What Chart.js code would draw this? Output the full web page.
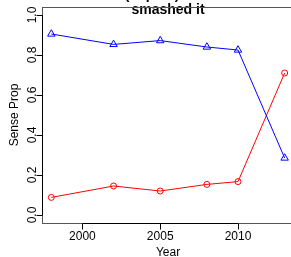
<!DOCTYPE html>
<html>
<head>
<meta charset="utf-8">
<script src="https://cdn.jsdelivr.net/npm/chart.js@4"></script>
<style>
  html, body { margin: 0; padding: 0; background: #fff; overflow: hidden; }
  canvas { display: block; }
</style>
</head>
<body>
<canvas id="senseChart" width="300" height="257"></canvas>
<script>
// values
const years = [1998, 2002, 2005, 2008, 2010, 2013];
const blueProp = [0.905, 0.853, 0.872, 0.84, 0.825, 0.285];
const redProp = [0.088, 0.145, 0.12, 0.153, 0.167, 0.71];

const xTicks = [2000, 2005, 2010];
const yTicks = [0, 0.2, 0.4, 0.6, 0.8, 1.0];
const yTickLabels = ['0.0', '0.2', '0.4', '0.6', '0.8', '1.0'];

const FONT = '"Liberation Sans", Arial, Helvetica, sans-serif';

// R style axes, box and titles drawn through the chart scales
const rAxes = {
    id: 'rAxes',
    beforeDatasetsDraw(chart) {
        const ctx = chart.ctx;
        const a = chart.chartArea;
        const xs = chart.scales.x, ys = chart.scales.y;
        ctx.save();
        // box
        ctx.strokeStyle = '#555';
        ctx.lineWidth = 1;
        ctx.strokeRect(Math.round(a.left) + 0.5, Math.round(a.top) + 0.5,
                       Math.round(a.right - a.left), Math.round(a.bottom - a.top));

        ctx.strokeStyle = '#000';
        ctx.fillStyle = '#000';
        ctx.font = '12px ' + FONT;

        // x axis
        const yb = Math.round(a.bottom) + 0.5;
        const x0 = xs.getPixelForValue(xTicks[0]);
        const x1 = xs.getPixelForValue(xTicks[xTicks.length - 1]);
        ctx.beginPath();
        ctx.moveTo(x0, yb); ctx.lineTo(x1, yb);
        xTicks.forEach(t => {
            const px = Math.round(xs.getPixelForValue(t)) + 0.5;
            ctx.moveTo(px, yb); ctx.lineTo(px, yb + 6);
        });
        ctx.stroke();
        ctx.textAlign = 'center';
        ctx.textBaseline = 'alphabetic';
        xTicks.forEach(t => ctx.fillText(String(t), xs.getPixelForValue(t), 240));
        ctx.fillText('Year', (a.left + a.right) / 2, 256);

        // y axis
        const xl = Math.round(a.left) + 0.5;
        ctx.beginPath();
        ctx.moveTo(xl, ys.getPixelForValue(yTicks[0]));
        ctx.lineTo(xl, ys.getPixelForValue(yTicks[yTicks.length - 1]));
        yTicks.forEach(t => {
            const py = Math.round(ys.getPixelForValue(t)) + 0.5;
            ctx.moveTo(xl, py); ctx.lineTo(xl - 6, py);
        });
        ctx.stroke();
        yTicks.forEach((t, i) => {
            ctx.save();
            ctx.translate(36, ys.getPixelForValue(t));
            ctx.rotate(-Math.PI / 2);
            ctx.fillText(yTickLabels[i], 0, 0);
            ctx.restore();
        });
        ctx.save();
        ctx.translate(18, (a.top + a.bottom) / 2);
        ctx.rotate(-Math.PI / 2);
        ctx.fillText('Sense Prop', 0, 0);
        ctx.restore();
        ctx.restore();
    },
    afterDraw(chart) {
        const ctx = chart.ctx;
        const a = chart.chartArea;
        const cx = (a.left + a.right) / 2;
        ctx.save();
        ctx.fillStyle = '#000';
        ctx.font = 'bold 14px ' + FONT;
        ctx.textAlign = 'center';
        ctx.textBaseline = 'alphabetic';
        // first title line sits above the window, only descenders show
        ctx.fillText('(', 127, -1);
        ctx.fillText('p', 150, -1);
        ctx.fillText(')', 177, -1);
        ctx.fillText('smashed it', cx, 13.5);
        // top of the box runs over the title
        ctx.strokeStyle = '#555';
        ctx.lineWidth = 1;
        ctx.beginPath();
        ctx.moveTo(Math.round(a.left), Math.round(a.top) + 0.5);
        ctx.lineTo(Math.round(a.right), Math.round(a.top) + 0.5);
        ctx.stroke();
        ctx.restore();
    }
};

new Chart(document.getElementById('senseChart'), {
    type: 'line',
    data: {
        datasets: [
            {
                label: 'blue',
                data: years.map((y, i) => ({ x: y, y: blueProp[i] })),
                borderColor: '#0000ff',
                backgroundColor: '#ffffff',
                borderWidth: 1,
                pointStyle: 'triangle',
                pointRadius: 4.3,
                pointBorderWidth: 1,
                pointBorderColor: '#0000ff',
                pointBackgroundColor: 'rgba(255,255,255,0)',
                tension: 0
            },
            {
                label: 'red',
                data: years.map((y, i) => ({ x: y, y: redProp[i] })),
                borderColor: '#ff0000',
                backgroundColor: '#ffffff',
                borderWidth: 1,
                pointStyle: 'circle',
                pointRadius: 3,
                pointBorderWidth: 1,
                pointBorderColor: '#ff0000',
                pointBackgroundColor: 'rgba(255,255,255,0)',
                tension: 0
            }
        ]
    },
    options: {
        responsive: false,
        animation: false,
        layout: { padding: { left: 42, top: 7, right: 6, bottom: 34 } },
        plugins: { legend: { display: false }, tooltip: { enabled: false }, title: { display: false } },
        scales: {
            x: { type: 'linear', min: 1997.4, max: 2013.6, display: false },
            y: { type: 'linear', min: -0.04, max: 1.04, display: false }
        }
    },
    plugins: [rAxes]
});
</script>
</body>
</html>
